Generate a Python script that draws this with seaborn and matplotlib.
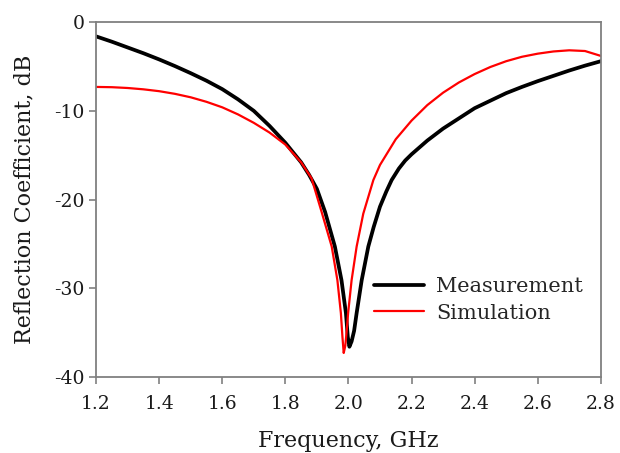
import pandas as pd
import numpy as np
import matplotlib
matplotlib.use("Agg")
import matplotlib.pyplot as plt
from matplotlib.lines import Line2D
import seaborn as sns

# values
meas_freq = [1.2, 1.25, 1.3, 1.35, 1.4, 1.45, 1.5, 1.55, 1.6, 1.65, 1.7, 1.75, 1.8, 1.85,
             1.875, 1.9, 1.926, 1.957, 1.978, 1.992, 1.998, 2.003, 2.01, 2.018, 2.026,
             2.042, 2.063, 2.08, 2.1, 2.12, 2.137, 2.16, 2.18, 2.2, 2.25, 2.3, 2.35, 2.4,
             2.45, 2.5, 2.55, 2.6, 2.65, 2.7, 2.75, 2.8]
meas_db = [-1.6, -2.2, -2.85, -3.5, -4.2, -4.95, -5.75, -6.6, -7.55, -8.7, -10.0, -11.7, -13.6, -15.8,
           -17.2, -18.8, -21.4, -25.3, -29.1, -32.8, -35.5, -36.6, -36.0, -34.8, -32.8,
           -29.1, -25.3, -23.1, -20.8, -19.1, -17.8, -16.5, -15.6, -14.9, -13.35, -12.0, -10.85, -9.7,
           -8.85, -8.0, -7.3, -6.65, -6.05, -5.45, -4.9, -4.4]

sim_freq = [1.2, 1.25, 1.3, 1.35, 1.4, 1.45, 1.5, 1.55, 1.6, 1.65, 1.7, 1.75, 1.8, 1.85,
            1.883, 1.915, 1.947, 1.965, 1.976, 1.981, 1.985, 1.99, 1.994, 1.999, 2.01,
            2.026, 2.047, 2.079, 2.1, 2.15, 2.2, 2.25, 2.3, 2.35, 2.4, 2.45, 2.5, 2.55,
            2.6, 2.65, 2.7, 2.75, 2.8]
sim_db = [-7.3, -7.33, -7.42, -7.57, -7.78, -8.08, -8.47, -8.98, -9.6, -10.4, -11.35, -12.45, -13.8, -15.8,
          -17.6, -21.4, -25.3, -29.1, -32.8, -35.5, -37.3, -36.5, -35.0, -32.8, -29.1,
          -25.3, -21.6, -17.8, -16.1, -13.2, -11.1, -9.35, -7.95, -6.8, -5.85, -5.05, -4.4, -3.9,
          -3.55, -3.3, -3.17, -3.25, -3.8]

df = pd.concat([
    pd.DataFrame({'freq': meas_freq, 'db': meas_db, 'kind': 'Measurement'}),
    pd.DataFrame({'freq': sim_freq, 'db': sim_db, 'kind': 'Simulation'}),
], ignore_index=True)

xticks = [1.2, 1.4, 1.6, 1.8, 2.0, 2.2, 2.4, 2.6, 2.8]
yticks = [0, -10, -20, -30, -40]

sns.set_style('ticks')
plt.rcParams['font.family'] = ['DejaVu Serif']

fig = plt.figure(figsize=(6.2, 4.53), dpi=100)
ax = fig.add_axes([0.155, 0.168, 0.814, 0.783])

sns.lineplot(data=df, x='freq', y='db', hue='kind', size='kind',
             sizes={'Measurement': 2.7, 'Simulation': 1.6},
             palette={'Measurement': 'black', 'Simulation': '#ff0000'},
             sort=False, estimator=None, ax=ax, legend=False)

ax.set_xlim(1.2, 2.8)
ax.set_ylim(-40, 0)
ax.set_xticks(xticks)
ax.set_xticklabels([f"{v:.1f}" for v in xticks])
ax.set_yticks(yticks)
ax.set_yticklabels([str(v) for v in yticks])

for s in ax.spines.values():
    s.set_color('#808080')
    s.set_linewidth(1.3)
ax.tick_params(colors='#808080', length=5, width=1.2, labelcolor='#1a1a1a', labelsize=13.5)
ax.tick_params(axis='x', pad=8)

ax.set_xlabel('Frequency, GHz', fontsize=16, color='#1a1a1a', labelpad=12)
ax.set_ylabel('Reflection Coefficient, dB', fontsize=16, color='#1a1a1a', labelpad=13)

handles = [Line2D([], [], color='black', lw=2.7), Line2D([], [], color='#ff0000', lw=1.6)]
ax.legend(handles, ['Measurement', 'Simulation'], loc='upper left',
          bbox_to_anchor=(0.55, 0.282), frameon=False, fontsize=15,
          borderpad=0, borderaxespad=0,
          handlelength=2.4, handletextpad=0.6, labelspacing=0.38)

fig.savefig('out.png', dpi=100)
